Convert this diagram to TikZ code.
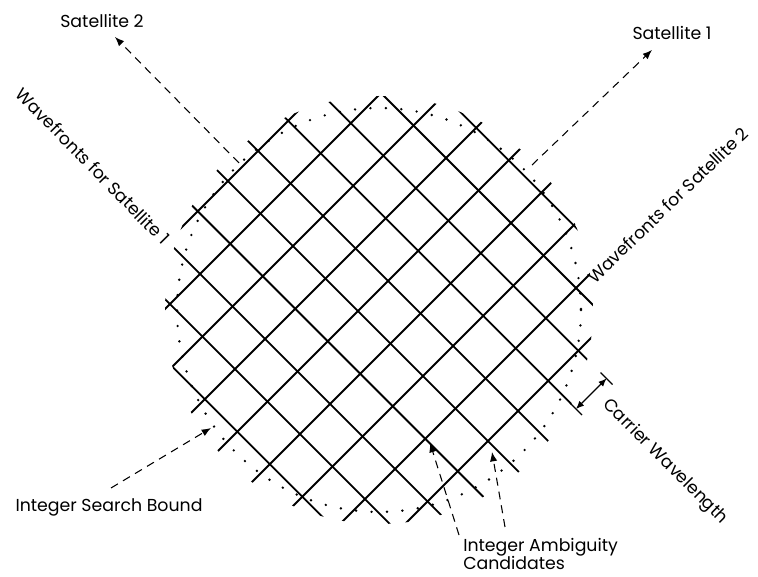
\documentclass[tikz,border=0pt]{standalone}
\usepackage{fontspec}
\setmainfont{Poppins}
\usetikzlibrary{arrows.meta,calc,positioning}

\begin{document}
\begin{tikzpicture}[>={Latex[length=7pt,width=5.5pt]},x=0.75pt,y=-0.75pt,
  wave/.style={line width=1.35pt},
  bound/.style={line width=2pt,line cap=round,dash pattern=on 0pt off 11.6pt},
  pointer/.style={->,line width=0.8pt,dash pattern=on 6pt off 4.5pt},
  lbl/.style={font=\fontsize{13}{13}\selectfont,inner sep=0pt}]
\useasboundingbox (0,0) rectangle (758,577);
\coordinate (ctr) at (379,310);
% wavefronts of both satellites
\begin{scope}
\clip (ctr) circle[radius=214];
\foreach \k in {-1,...,8}
  \draw[wave] ({474+65*\k+200},-200) -- ({474+65*\k-800},800);
\foreach \m in {-1,...,8}
  \draw[wave] ({288-60.3*\m-200},-200) -- ({288-60.3*\m+800},800);
\end{scope}
% integer search bound
\draw[bound] (ctr) circle[radius=202];

\node[lbl] (sat2) at (102,21) {Satellite 2};
\node[lbl] (sat1) at (672,33) {Satellite 1};
\node[lbl,rotate=-45.5] (wf1) at (93,166) {Wavefronts for Satellite 1};
\node[lbl,rotate=44] (wf2) at (668,205) {Wavefronts for Satellite 2};
\node[lbl,rotate=-45] (carrier) at (665,462) {Carrier Wavelength};
\node[lbl] (bound) at (109,507) {Integer Search Bound};
\node[lbl,align=left,anchor=north west] (cand) at (463,538) {Integer Ambiguity\\[-1pt]Candidates};

\coordinate (s2from) at (239,163);
\coordinate (s2tip) at (115,37);
\coordinate (s1from) at (532,165);
\coordinate (s1tip) at (652,50);
\coordinate (bfrom) at (111,488);
\coordinate (btip) at (211,428);
\coordinate (c1from) at (459,535);
\coordinate (c1tip) at (430,443);
\coordinate (c2from) at (505,527);
\coordinate (c2tip) at (492,452);
\draw[pointer] (s2from) -- (s2tip);
\draw[pointer] (s1from) -- (s1tip);
\draw[pointer] (bfrom) -- (btip);
\draw[pointer] (c1from) -- (c1tip);
\draw[pointer] (c2from) -- (c2tip);

% one wavelength between two wavefronts
\coordinate (cwA) at (576,409);
\coordinate (cwB) at (606.5,378.5);
\draw[line width=0.9pt] ($(cwA)+(-6,-6)$) -- ($(cwA)+(6,6)$);
\draw[line width=0.9pt] ($(cwB)+(-6,-6)$) -- ($(cwB)+(6,6)$);
\draw[<->,line width=0.8pt,>={Latex[length=6pt,width=5pt]}] (cwA) -- (cwB);
\end{tikzpicture}
\end{document}
